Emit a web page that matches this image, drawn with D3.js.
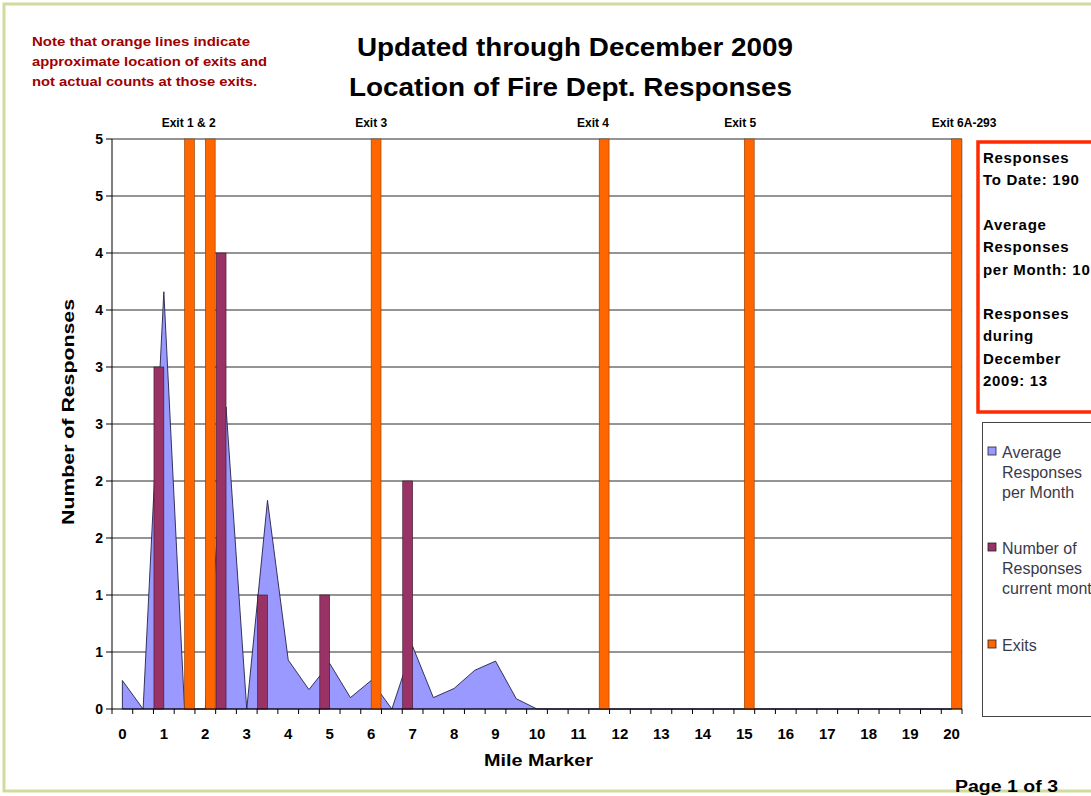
<!DOCTYPE html>
<html>
<head>
<meta charset="utf-8">
<script src="https://cdn.jsdelivr.net/npm/d3@7"></script>
<style>
  html, body { margin: 0; padding: 0; background: #ffffff; }
  svg { display: block; }
  text { font-family: "Liberation Sans", Arial, sans-serif; }
</style>
</head>
<body>
<svg id="chart" width="1091" height="796"></svg>
<script>
// ---------------- DATA ----------------
const mileMarkers = [0, 0.5, 1, 1.5, 2, 2.5, 3, 3.5, 4, 4.5, 5, 5.5, 6, 6.5, 7, 7.5, 8, 8.5, 9, 9.5,
  10, 10.5, 11, 11.5, 12, 12.5, 13, 13.5, 14, 14.5, 15, 15.5, 16, 16.5, 17, 17.5, 18, 18.5, 19, 19.5, 20];
const avgResponses = [0.25, 0, 3.66, 0, 0, 2.65, 0, 1.83, 0.43, 0.17, 0.40, 0.10, 0.25, 0, 0.55, 0.10, 0.18, 0.34, 0.42, 0.09,
  0, 0, 0, 0, 0, 0, 0, 0, 0, 0, 0, 0, 0, 0, 0, 0, 0, 0, 0, 0, 0];
const currentMonth = [0, 0, 3, 0, 0, 4, 0, 1, 0, 0, 1, 0, 0, 0, 2, 0, 0, 0, 0, 0,
  0, 0, 0, 0, 0, 0, 0, 0, 0, 0, 0, 0, 0, 0, 0, 0, 0, 0, 0, 0, 0];
const exits = [0, 0, 0, 5, 5, 0, 0, 0, 0, 0, 0, 0, 5, 0, 0, 0, 0, 0, 0, 0,
  0, 0, 0, 5, 0, 0, 0, 0, 0, 0, 5, 0, 0, 0, 0, 0, 0, 0, 0, 0, 5];
const xTickLabels = ["0","1","2","3","4","5","6","7","8","9","10","11","12","13","14","15","16","17","18","19","20"];
const yTickValues = [0, 0.5, 1, 1.5, 2, 2.5, 3, 3.5, 4, 4.5, 5];
const yTickLabels = ["0","1","1","2","2","3","3","4","4","5","5"];
const exitLabels = ["Exit 1 & 2", "Exit 3", "Exit 4", "Exit 5", "Exit 6A-293"];
const exitLabelMiles = [1.6, 6.0, 11.35, 14.9, 20.3];
const titleLines = ["Updated through December 2009", "Location of Fire Dept. Responses"];
const noteLines = ["Note that orange lines indicate", "approximate location of exits and", "not actual counts at those exits."];
const statsLines = ["Responses", "To Date: 190", "", "Average", "Responses", "per Month: 10", "", "Responses", "during", "December", "2009: 13"];
const seriesNames = [["Average", "Responses", "per Month"], ["Number of", "Responses", "current month"], ["Exits"]];
const seriesColors = ["#9999ff", "#993366", "#ff6600"];

// ---------------- LAYOUT ----------------
const svg = d3.select("#chart");
const plot = { left: 112, right: 962, top: 139, bottom: 709 };

// page border
svg.append("rect").attr("x", 4).attr("y", 4).attr("width", 1100).attr("height", 787)
  .attr("fill", "#ffffff").attr("stroke", "#cfdc9c").attr("stroke-width", 3);

const x = d3.scaleBand().domain(mileMarkers).range([plot.left, plot.right]).paddingInner(0).paddingOuter(0);
const x1 = d3.scaleBand().domain(["current", "exit"]).range([0, x.bandwidth()]).paddingInner(0).paddingOuter(0.05);
const y = d3.scaleLinear().domain([0, 5]).range([plot.bottom, plot.top]);
const mileToX = d3.scaleLinear().domain([0, 20]).range([x(0) + x.bandwidth() / 2, x(20) + x.bandwidth() / 2]);

// gridlines
svg.append("g").selectAll("line").data(yTickValues.slice(1)).join("line")
  .attr("x1", plot.left).attr("x2", plot.right)
  .attr("y1", d => y(d)).attr("y2", d => y(d))
  .attr("stroke", "#2a2a2a").attr("stroke-width", 1);

// plot right border
svg.append("line").attr("x1", plot.right).attr("x2", plot.right).attr("y1", plot.top).attr("y2", plot.bottom)
  .attr("stroke", "#9a9a9a").attr("stroke-width", 1);

// area
const areaData = mileMarkers.map((m, i) => ({ m, v: avgResponses[i] }));
const area = d3.area().x(d => x(d.m) + x.bandwidth() / 2).y0(y(0)).y1(d => y(d.v));
svg.append("path").datum(areaData).attr("d", area)
  .attr("fill", seriesColors[0]).attr("stroke", "#22224a").attr("stroke-width", 0.9);

// bars
const barData = [];
mileMarkers.forEach((m, i) => {
  if (currentMonth[i] > 0) barData.push({ m, v: currentMonth[i], s: "current" });
  if (exits[i] > 0) barData.push({ m, v: exits[i], s: "exit" });
});
svg.append("g").selectAll("rect").data(barData).join("rect")
  .attr("x", d => x(d.m) + x1(d.s))
  .attr("width", x1.bandwidth())
  .attr("y", d => y(d.v))
  .attr("height", d => y(0) - y(d.v))
  .attr("fill", d => d.s === "current" ? seriesColors[1] : seriesColors[2])
  .attr("stroke", d => d.s === "current" ? "#3a1026" : "#8a3a00")
  .attr("stroke-width", 0.6);

// axes lines
svg.append("line").attr("x1", plot.left).attr("x2", plot.left).attr("y1", plot.top).attr("y2", plot.bottom)
  .attr("stroke", "#000").attr("stroke-width", 1);
svg.append("line").attr("x1", plot.left).attr("x2", plot.right).attr("y1", plot.bottom).attr("y2", plot.bottom)
  .attr("stroke", "#000").attr("stroke-width", 1);

// x ticks at category boundaries
const xBoundaries = mileMarkers.map(m => x(m)).concat([plot.right]);
svg.append("g").selectAll("line").data(xBoundaries).join("line")
  .attr("x1", d => d).attr("x2", d => d).attr("y1", plot.bottom).attr("y2", plot.bottom + 5)
  .attr("stroke", "#000");

// x tick labels (every other category)
svg.append("g").selectAll("text").data(xTickLabels).join("text")
  .attr("x", d => mileToX(+d)).attr("y", 739)
  .attr("text-anchor", "middle").attr("font-size", 15).attr("font-weight", "bold")
  .text(d => d);

// y ticks + labels
svg.append("g").selectAll("line").data(yTickValues).join("line")
  .attr("x1", plot.left - 6).attr("x2", plot.left).attr("y1", d => y(d)).attr("y2", d => y(d))
  .attr("stroke", "#000");
svg.append("g").selectAll("text").data(yTickValues).join("text")
  .attr("x", 103).attr("y", d => y(d) + 5)
  .attr("text-anchor", "end").attr("font-size", 14).attr("font-weight", "bold")
  .text((d, i) => yTickLabels[i]);

// axis titles
svg.append("text").attr("transform", "translate(74,412) rotate(-90)")
  .attr("text-anchor", "middle").attr("font-size", 17).attr("font-weight", "bold")
  .attr("textLength", 226).attr("lengthAdjust", "spacingAndGlyphs")
  .text("Number of Responses");
svg.append("text").attr("x", 484).attr("y", 766)
  .attr("font-size", 17).attr("font-weight", "bold")
  .attr("textLength", 109).attr("lengthAdjust", "spacingAndGlyphs")
  .text("Mile Marker");

// exit labels
svg.append("g").selectAll("text").data(exitLabels).join("text")
  .attr("x", (d, i) => mileToX(exitLabelMiles[i])).attr("y", 127)
  .attr("text-anchor", "middle").attr("font-size", 12).attr("font-weight", "bold")
  .text(d => d);

// titles
const titleLen = [436, 443];
const titleX = [357, 349];
svg.append("g").selectAll("text").data(titleLines).join("text")
  .attr("x", (d, i) => titleX[i]).attr("y", (d, i) => 56 + i * 40)
  .attr("font-size", 25).attr("font-weight", "bold")
  .attr("textLength", (d, i) => titleLen[i]).attr("lengthAdjust", "spacingAndGlyphs")
  .text(d => d);

// note
const noteLen = [218, 235, 225];
svg.append("g").selectAll("text").data(noteLines).join("text")
  .attr("x", 32).attr("y", (d, i) => 46 + i * 20)
  .attr("font-size", 13).attr("font-weight", "bold").attr("fill", "#a00000")
  .attr("textLength", (d, i) => noteLen[i]).attr("lengthAdjust", "spacingAndGlyphs")
  .text(d => d);

// stats box
svg.append("rect").attr("x", 978).attr("y", 142).attr("width", 140).attr("height", 270)
  .attr("fill", "#ffffff").attr("stroke", "#ff2a00").attr("stroke-width", 3.5);
svg.append("g").selectAll("text").data(statsLines).join("text")
  .attr("x", 983).attr("y", (d, i) => 163 + i * 22.3)
  .attr("font-size", 15).attr("font-weight", "bold").attr("fill", "#000")
  .attr("letter-spacing", 0.7)
  .text(d => d);

// legend
svg.append("rect").attr("x", 982.5).attr("y", 422.5).attr("width", 140).attr("height", 294)
  .attr("fill", "#ffffff").attr("stroke", "#444").attr("stroke-width", 1);
const legendTop = [458, 554, 651];
const legend = svg.append("g");
seriesNames.forEach((lines, k) => {
  legend.append("rect").attr("x", 988).attr("y", legendTop[k] - 11).attr("width", 8).attr("height", 8)
    .attr("fill", seriesColors[k]).attr("stroke", "#222").attr("stroke-width", 0.8);
  lines.forEach((t, j) => {
    legend.append("text").attr("x", 1002).attr("y", legendTop[k] + j * 20)
      .attr("font-size", 16).attr("fill", "#3a3a4a").text(t);
  });
});

// page number
svg.append("text").attr("x", 955).attr("y", 792)
  .attr("font-size", 16).attr("font-weight", "bold")
  .attr("textLength", 103).attr("lengthAdjust", "spacingAndGlyphs")
  .text("Page 1 of 3");
</script>
</body>
</html>
